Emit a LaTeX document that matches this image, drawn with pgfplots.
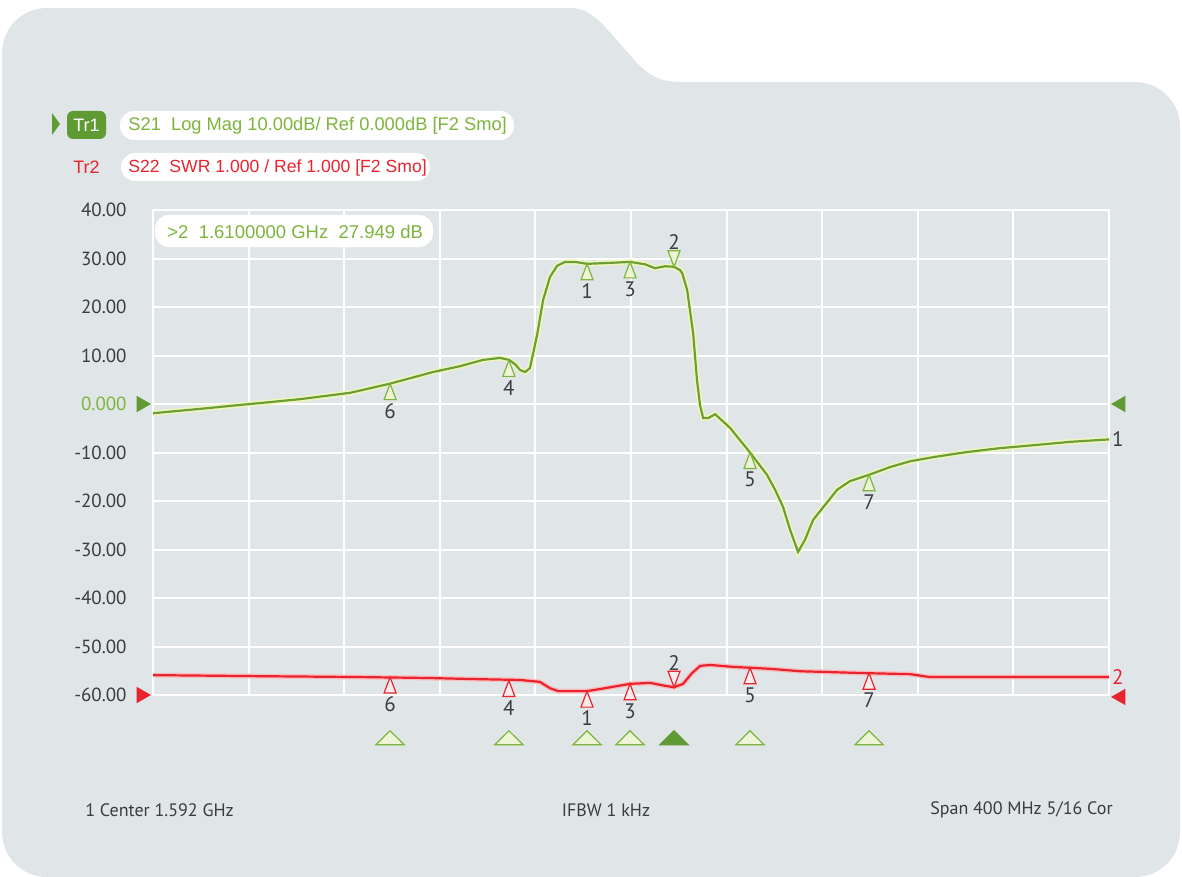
\documentclass[border=0pt]{standalone}
\usepackage{fontspec}
\setmainfont{Liberation Sans}
\newfontfamily\din{PT Sans}
\usepackage{pgfplots}
\pgfplotsset{compat=1.18}

\definecolor{panel}{RGB}{224,229,231}
\definecolor{trgreen}{RGB}{108,158,56}
\definecolor{lblgreen}{RGB}{125,180,60}
\definecolor{badge}{RGB}{95,155,50}
\definecolor{trred}{RGB}{234,36,46}
\definecolor{mfillg}{RGB}{238,245,215}
\definecolor{mfillr}{RGB}{250,236,236}
\definecolor{txtgray}{RGB}{58,60,64}

% trace data, x in GHz, y in dB
\pgfplotstableread{
f db
1.3920 -1.9
1.4117 -1.0
1.4326 0.0
1.4535 1.0
1.4744 2.3
1.4912 4.2
1.5092 6.6
1.5205 7.8
1.5301 9.1
1.5372 9.5
1.5410 9.1
1.5435 8.2
1.5456 7.0
1.5477 6.6
1.5497 7.4
1.5527 14.2
1.5552 21.4
1.5581 26.2
1.5611 28.5
1.5644 29.3
1.5686 29.3
1.5736 28.9
1.5832 29.1
1.5916 29.3
1.5979 28.8
1.6020 28.0
1.6062 28.4
1.6100 28.3
1.6125 27.6
1.6134 27.0
1.6155 23.5
1.6180 14.6
1.6196 5.0
1.6209 -0.3
1.6222 -2.9
1.6243 -2.9
1.6272 -2.1
1.6334 -4.9
1.6418 -10.0
1.6489 -14.6
1.6523 -17.7
1.6556 -21.2
1.6586 -26.0
1.6619 -30.5
1.6648 -28.0
1.6682 -23.9
1.6732 -20.8
1.6782 -17.7
1.6836 -15.9
1.6916 -14.6
1.7004 -13.0
1.7088 -11.8
1.7192 -10.9
1.7326 -9.9
1.7464 -9.1
1.7603 -8.5
1.7757 -7.8
1.7920 -7.3
}\sxxi

\pgfplotstableread{
f db
1.3920 -55.9
1.4326 -56.1
1.4786 -56.3
1.5079 -56.5
1.5246 -56.7
1.5456 -56.9
1.5539 -57.3
1.5581 -58.6
1.5615 -59.2
1.5736 -59.2
1.5811 -58.6
1.5916 -57.7
1.6000 -57.5
1.6062 -58.1
1.6100 -58.4
1.6138 -57.7
1.6175 -55.5
1.6209 -54.0
1.6251 -53.8
1.6347 -54.2
1.6502 -54.6
1.6627 -55.1
1.6908 -55.5
1.7087 -55.7
1.7171 -56.3
1.7464 -56.3
1.7920 -56.3
}\sxxii

\pgfplotsset{
  mk/.style={only marks, mark=triangle*, mark size=5.33pt,
    nodes near coords, point meta=explicit symbolic,
    every node near coord/.append style={font=\din\fontsize{10.5}{10}\selectfont,
      text=txtgray, anchor=center, yshift=-8.3pt}},
  mkup/.style={only marks, mark=triangle*, mark size=5.33pt,
    nodes near coords, point meta=explicit symbolic,
    every node near coord/.append style={font=\din\fontsize{10.5}{10}\selectfont,
      text=txtgray, anchor=center, yshift=6.8pt}},
}

\begin{document}
\begin{tikzpicture}
\begin{scope}[x=0.5pt,y=-0.5pt]
\path[use as bounding box] (0,0) rectangle (1182,877);
\fill[panel] (2,53) .. controls (2,28) and (22,8) .. (47,8) -- (570,8)
  .. controls (592,8) and (604,26) .. (622,46)
  .. controls (640,66) and (650,82) .. (680,82) -- (1135,82)
  .. controls (1160,82) and (1180,102) .. (1180,127) -- (1180,832)
  .. controls (1180,857) and (1160,877) .. (1135,877) -- (47,877)
  .. controls (22,877) and (2,857) .. (2,832) -- cycle;
\end{scope}

\begin{axis}[
  at={(76.5pt,-347.5pt)}, anchor=south west,
  scale only axis, width=478pt, height=242.5pt,
  xmin=1.392, xmax=1.792, ymin=-60, ymax=40,
  clip=false,
  xtick={1.392,1.432,1.472,1.512,1.552,1.592,1.632,1.672,1.712,1.752,1.792},
  xticklabels={},
  ytick={-60,-50,-40,-30,-20,-10,0,10,20,30,40},
  yticklabels={-60.00,-50.00,-40.00,-30.00,-20.00,-10.00,{\textcolor{lblgreen}{0.000}},10.00,20.00,30.00,40.00},
  yticklabel style={font=\din\fontsize{9.5}{10}\selectfont, text=txtgray,
    anchor=east, inner sep=0pt, xshift=-13pt},
  major tick length=0pt,
  grid=major,
  major grid style={white, line width=1pt},
  axis line style={white, line width=1pt},
]
% traces, with a faint halo underneath
\addplot[trred!30, line width=2.4pt, forget plot] table[x=f,y=db]{\sxxii};
\addplot[trred, line width=1.1pt] table[x=f,y=db]{\sxxii}
  node[pos=1, anchor=west, inner sep=1pt, font=\din\fontsize{10.5}{10}\selectfont, text=trred] {2};
\addplot[lblgreen!35!yellow!30, line width=2.6pt, forget plot] table[x=f,y=db]{\sxxi};
\addplot[trgreen, line width=1.1pt] table[x=f,y=db]{\sxxi}
  node[pos=1, anchor=west, inner sep=1pt, font=\din\fontsize{10.5}{10}\selectfont, text=txtgray] {1};

% markers on S21
\addplot[mk, mark options={draw=lblgreen, fill=mfillg, line width=0.6pt, yshift=-5.33pt, xscale=0.65}]
  table[meta=l]{
f db l
1.4912 4.2 6
1.5409 9.0 4
1.5736 28.9 1
1.5916 29.3 3
1.6418 -10.0 5
1.6916 -14.6 7
};
\addplot[mkup, mark options={draw=lblgreen, fill=mfillg, line width=0.6pt, yshift=5.33pt, rotate=180, xscale=0.65}]
  table[meta=l]{
f db l
1.6100 28.3 2
};
% markers on S22
\addplot[mk, mark options={draw=trred, fill=mfillr, line width=0.6pt, yshift=-5.33pt, xscale=0.65}]
  table[meta=l]{
f db l
1.4912 -56.3 6
1.5409 -57.0 4
1.5736 -59.2 1
1.5916 -57.7 3
1.6418 -54.4 5
1.6916 -55.5 7
};
\addplot[mkup, mark options={draw=trred, fill=mfillr, line width=0.6pt, yshift=5.33pt, rotate=180, xscale=0.65}]
  table[meta=l]{
f db l
1.6100 -58.4 2
};

% marker position indicators below the grid
\addplot[only marks, mark=triangle*, mark size=4.67pt,
  mark options={draw=lblgreen, fill=mfillg, line width=0.6pt, xscale=1.75}]
  coordinates {(1.4912,-69.3) (1.5409,-69.3) (1.5736,-69.3) (1.5916,-69.3) (1.6418,-69.3) (1.6916,-69.3)};
\addplot[only marks, mark=triangle*, mark size=4.67pt,
  mark options={draw=badge, fill=badge, line width=0.6pt, xscale=1.75}]
  coordinates {(1.6100,-69.3)};

% reference level arrows
\addplot[only marks, mark=triangle*, mark size=4.33pt,
  mark options={draw=badge, fill=badge, xshift=-5.8pt, rotate=-90}]
  coordinates {(1.392,0)};
\addplot[only marks, mark=triangle*, mark size=4.33pt,
  mark options={draw=badge, fill=badge, xshift=5.8pt, rotate=90}]
  coordinates {(1.792,0)};
\addplot[only marks, mark=triangle*, mark size=4.33pt,
  mark options={draw=trred, fill=trred, xshift=-5.8pt, rotate=-90}]
  coordinates {(1.392,-60)};
\addplot[only marks, mark=triangle*, mark size=4.33pt,
  mark options={draw=trred, fill=trred, xshift=5.8pt, rotate=90}]
  coordinates {(1.792,-60.4)};
\end{axis}

\begin{scope}[x=0.5pt,y=-0.5pt]
% trace headers
\fill[badge] (52,113) -- (60,124) -- (52,135) -- cycle;
\fill[badge, rounded corners=3pt] (67,111) rectangle (106,139);
\node[text=white, font=\fontsize{9}{10}\selectfont] at (86.5,125) {Tr1};
\fill[white, rounded corners=7pt] (120,111) rectangle (514,140);
\node[anchor=west, text=lblgreen, font=\fontsize{9.15}{10}\selectfont, inner sep=0pt] at (128,125.5)
  {S21\ \ Log Mag 10.00dB/ Ref 0.000dB [F2 Smo]};
\node[text=trred, font=\fontsize{9}{10}\selectfont] at (86.5,167) {Tr2};
\fill[white, rounded corners=7pt] (121,153) rectangle (430,181);
\node[anchor=west, text=trred, font=\fontsize{8.8}{10}\selectfont, inner sep=0pt] at (128,167.5)
  {S22\ \ SWR 1.000 / Ref 1.000 [F2 Smo]};
% marker readout
\fill[white, rounded corners=7pt] (155,215) rectangle (433,247);
\node[anchor=west, text=lblgreen, font=\fontsize{9.25}{10}\selectfont, inner sep=0pt] at (167,231.5)
  {>2\ \ 1.6100000 GHz\ \ 27.949 dB};
% footer
\node[anchor=west, text=txtgray, font=\din\fontsize{9}{10}\selectfont, inner sep=0pt] at (85,810) {1 Center 1.592 GHz};
\node[text=txtgray, font=\din\fontsize{9}{10}\selectfont, inner sep=0pt] at (606,810) {IFBW 1 kHz};
\node[anchor=east, text=txtgray, font=\din\fontsize{9}{10}\selectfont, inner sep=0pt] at (1113,810) {Span 400 MHz 5/16 Cor};
\end{scope}
\end{tikzpicture}
\end{document}
